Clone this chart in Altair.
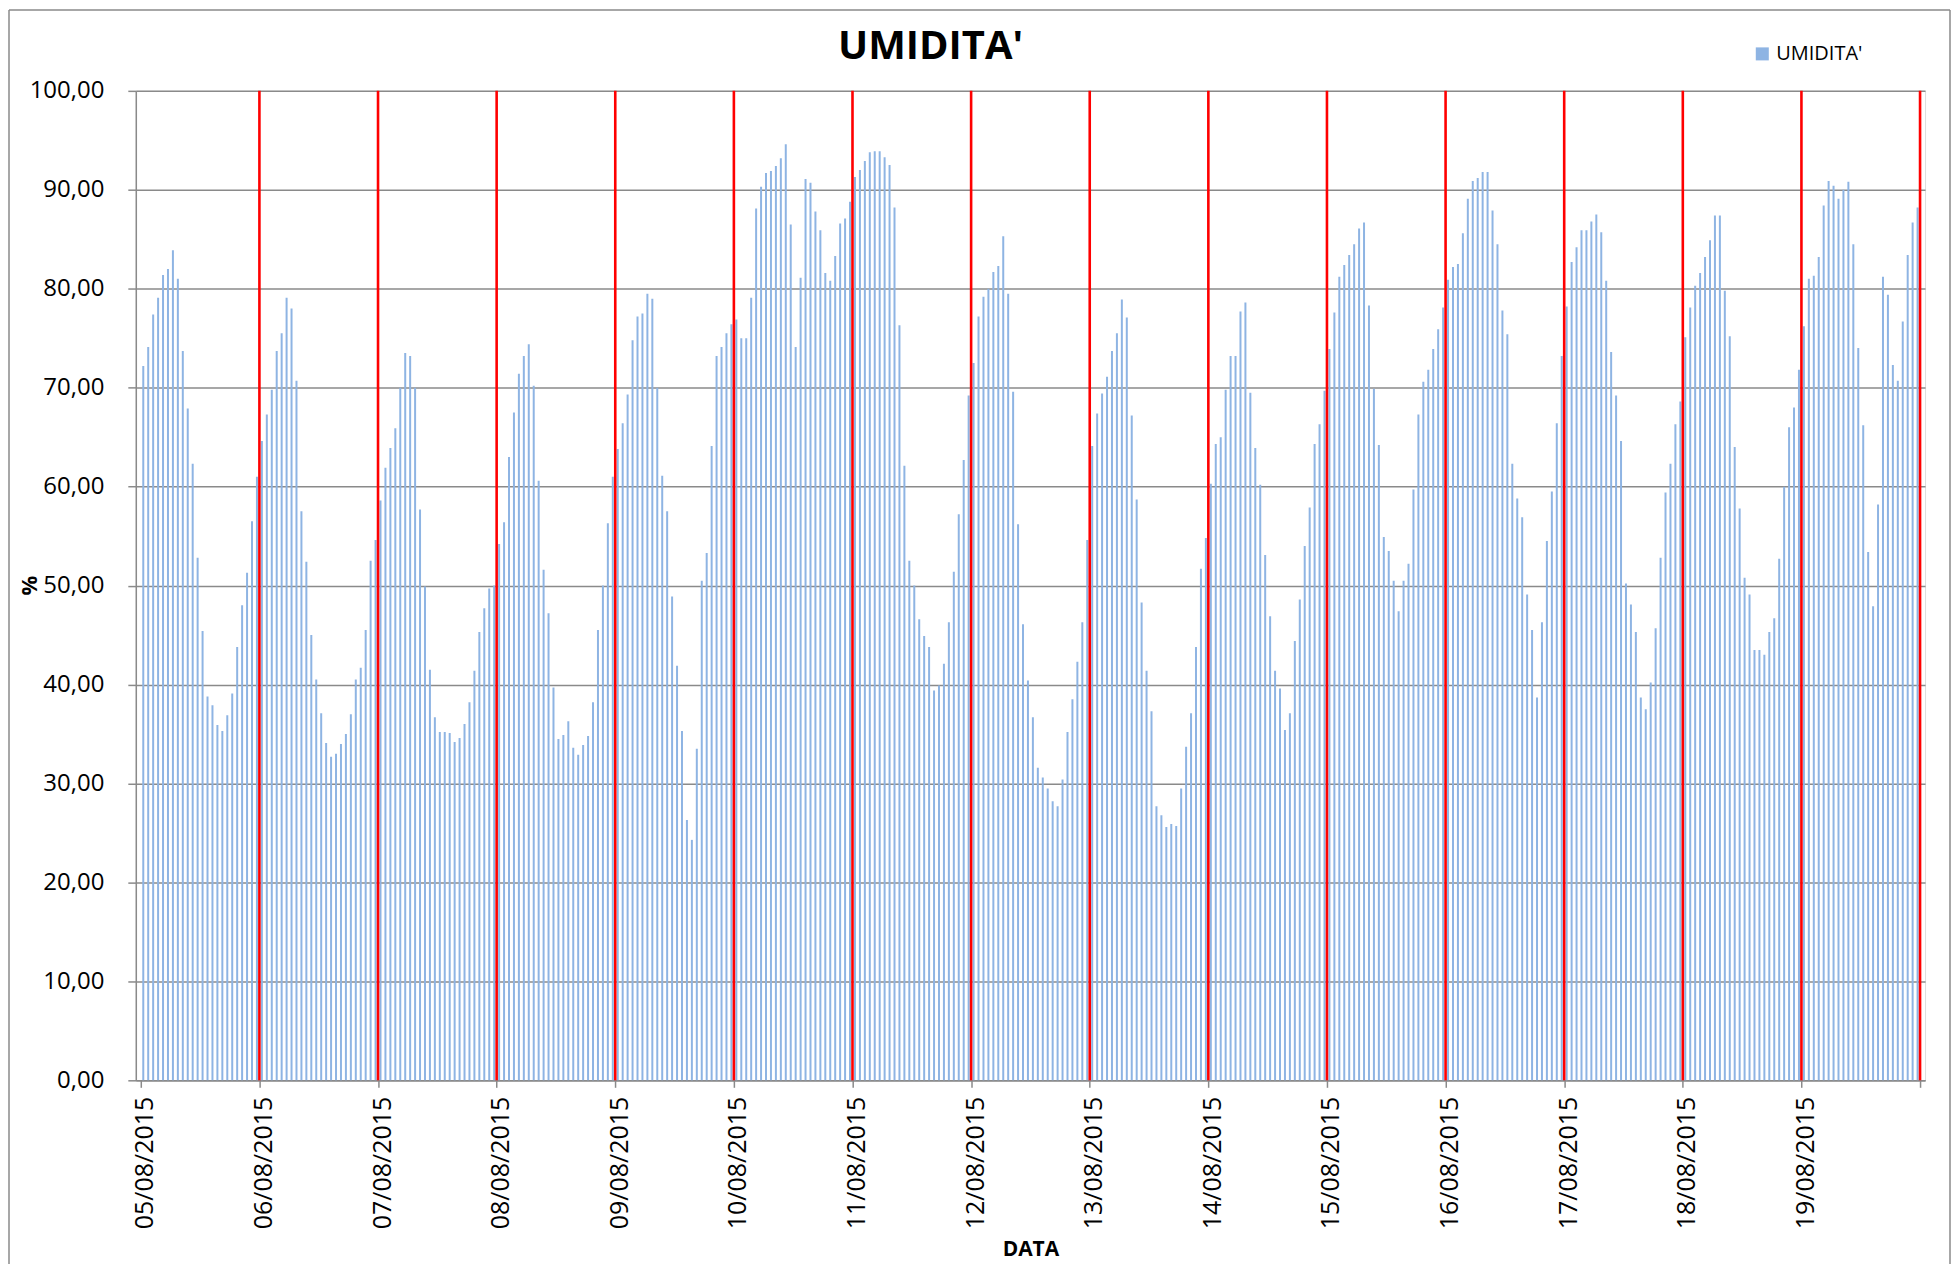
import altair as alt
import pandas as pd

# --- dati: umidità oraria (%) per giorno ---
titolo = "UMIDITA'"
giorni = ["05/08/2015", "06/08/2015", "07/08/2015", "08/08/2015", "09/08/2015",
          "10/08/2015", "11/08/2015", "12/08/2015", "13/08/2015", "14/08/2015",
          "15/08/2015", "16/08/2015", "17/08/2015", "18/08/2015", "19/08/2015"]

u_0508 = [72.2, 74.1, 77.4, 79.1, 81.4, 82.0, 83.9, 81.0, 73.7, 67.9, 62.3, 52.8,
          45.4, 38.8, 37.9, 35.9, 35.3, 36.9, 39.1, 43.8, 48.0, 51.3, 56.5, 61.0]
u_0608 = [64.6, 67.3, 69.8, 73.7, 75.5, 79.1, 78.0, 70.7, 57.5, 52.4, 45.0, 40.5,
          37.1, 34.1, 32.7, 33.0, 34.0, 35.0, 37.0, 40.5, 41.7, 45.5, 52.5, 54.6]
u_0708 = [58.6, 61.9, 63.9, 65.9, 70.0, 73.5, 73.2, 70.0, 57.7, 49.9, 41.5, 36.7,
          35.2, 35.2, 35.1, 34.2, 34.6, 36.0, 38.2, 41.4, 45.3, 47.7, 49.7, 50.0]
u_0808 = [54.2, 56.4, 63.0, 67.5, 71.4, 73.2, 74.4, 70.2, 60.6, 51.6, 47.2, 39.7,
          34.5, 34.9, 36.3, 33.6, 32.9, 33.9, 34.8, 38.2, 45.5, 50.0, 56.3, 61.0]
u_0908 = [63.8, 66.4, 69.3, 74.8, 77.2, 77.5, 79.5, 79.0, 70.0, 61.1, 57.5, 48.9,
          41.9, 35.3, 26.3, 24.3, 33.5, 50.5, 53.3, 64.1, 73.2, 74.1, 75.5, 76.4]
u_1008 = [76.9, 75.0, 75.0, 79.1, 88.1, 90.3, 91.7, 91.9, 92.4, 93.2, 94.6, 86.5,
          74.1, 81.1, 91.1, 90.7, 87.8, 85.9, 81.6, 80.8, 83.3, 86.6, 87.1, 88.8]
u_1108 = [91.3, 92.0, 92.9, 93.8, 93.9, 93.9, 93.3, 92.5, 88.2, 76.3, 62.1, 52.5,
          50.0, 46.6, 44.9, 43.8, 39.4, 39.9, 42.1, 46.3, 51.4, 57.2, 62.7, 69.2]
u_1208 = [72.5, 77.2, 79.2, 80.0, 81.7, 82.3, 85.3, 79.5, 69.6, 56.2, 46.1, 40.4,
          36.7, 31.6, 30.6, 29.5, 28.2, 27.7, 30.4, 35.2, 38.5, 42.3, 46.3, 54.6]
u_1308 = [64.1, 67.4, 69.4, 71.1, 73.7, 75.5, 78.9, 77.1, 67.2, 58.7, 48.3, 41.4,
          37.3, 27.7, 26.8, 25.6, 25.9, 25.7, 29.5, 33.7, 37.1, 43.8, 51.7, 54.8]
u_1408 = [60.3, 64.3, 65.0, 69.8, 73.2, 73.2, 77.7, 78.6, 69.5, 63.9, 60.2, 53.1,
          46.9, 41.4, 39.6, 35.4, 37.1, 44.4, 48.6, 54.0, 57.9, 64.3, 66.3, 69.7]
u_1508 = [73.9, 77.6, 81.2, 82.4, 83.4, 84.5, 86.1, 86.7, 78.3, 69.9, 64.2, 54.9,
          53.5, 50.5, 47.4, 50.5, 52.2, 59.7, 67.3, 70.6, 71.8, 73.9, 75.9, 78.1]
u_1608 = [80.9, 82.2, 82.5, 85.6, 89.1, 90.9, 91.2, 91.8, 91.8, 87.9, 84.5, 77.8,
          75.4, 62.3, 58.8, 56.9, 49.1, 45.5, 38.7, 46.3, 54.5, 59.5, 66.4, 73.2]
u_1708 = [78.2, 82.7, 84.2, 85.9, 85.9, 86.8, 87.5, 85.7, 80.8, 73.6, 69.2, 64.6,
          50.2, 48.1, 45.3, 38.7, 37.5, 40.2, 45.7, 52.8, 59.4, 62.3, 66.3, 68.6]
u_1808 = [75.1, 78.1, 80.3, 81.6, 83.2, 84.9, 87.4, 87.4, 79.8, 75.2, 64.0, 57.8,
          50.8, 49.1, 43.5, 43.5, 43.0, 45.3, 46.7, 52.7, 60.0, 66.0, 68.0, 71.8]
u_1908 = [76.2, 81.0, 81.3, 83.2, 88.4, 90.9, 90.4, 89.1, 90.0, 90.8, 84.5, 74.0,
          66.2, 53.4, 47.9, 58.2, 81.2, 79.4, 72.3, 70.7, 76.7, 83.4, 86.7, 88.2]

serie_giornaliere = [u_0508, u_0608, u_0708, u_0808, u_0908, u_1008, u_1108, u_1208,
                     u_1308, u_1408, u_1508, u_1608, u_1708, u_1808, u_1908]

ORE = 24
valori = [v for giorno in serie_giornaliere for v in giorno]
df = pd.DataFrame({
    "ora": [i + 0.5 for i in range(len(valori))],
    "umidita": valori,
    "serie": [titolo] * len(valori),
})
confini = pd.DataFrame({"ora": [ORE * (k + 1) for k in range(len(giorni))]})
tot = ORE * len(giorni)

FONT = "Open Sans"
GRAY = "#8a8a8a"
W, H = 1792, 991

x_scale = alt.Scale(domain=[0, tot], nice=False, zero=False)
y_scale = alt.Scale(domain=[0, 100], nice=False)

label_list = "[" + ",".join("'" + g + "'" for g in giorni) + "]"

x_axis = alt.Axis(
    title="DATA", titleFont=FONT, titleFontSize=21, titleFontWeight="bold",
    titleColor="#000", titleY=169, titleBaseline="middle",
    values=[ORE * k for k in range(len(giorni) + 1)],
    labelExpr="datum.value < " + str(tot) + " ? " + label_list
              + "[round(datum.value/24)] : ''",
    labelAngle=270, labelFont=FONT, labelFontSize=25, labelColor="#000",
    labelPadding=9, labelOffset=4, labelOverlap=False, labelFlush=False,
    tickSize=7, tickColor=GRAY, tickWidth=1.5,
    domainColor=GRAY, domainWidth=1.5, grid=False)

bars = alt.Chart(df).mark_bar(size=2).encode(
    x=alt.X("ora:Q", scale=x_scale, axis=x_axis),
    y=alt.Y("umidita:Q", scale=y_scale,
            axis=alt.Axis(
                title="%", titleFont=FONT, titleFontSize=22, titleFontWeight="bold",
                titleColor="#000", titleX=-106, titleY=495, titleAngle=270,
                titleAlign="center", titleBaseline="middle",
                values=list(range(0, 101, 10)),
                labelExpr="replace(format(datum.value, '.2f'), '.', ',')",
                labelFont=FONT, labelFontSize=24, labelColor="#000", labelPadding=24,
                tickSize=8, tickColor=GRAY, tickWidth=1.5,
                domainColor=GRAY, domainWidth=1.5,
                grid=True, gridColor=GRAY, gridWidth=1.5)),
    color=alt.Color("serie:N", scale=alt.Scale(range=["#8EB4E3"]),
                    legend=alt.Legend(title=None, orient="none", legendX=1619, legendY=-47,
                                      symbolType="square", symbolSize=170,
                                      symbolStrokeWidth=0, labelFont=FONT,
                                      labelFontSize=20, labelColor="#000")),
)

rules = alt.Chart(confini).mark_rule(color="#ff0000", strokeWidth=2.6).encode(
    x=alt.X("ora:Q", scale=x_scale, axis=x_axis)
)

cornice_df = pd.DataFrame({"a": [0]})
frame_left = alt.Chart(cornice_df).mark_rule(color=GRAY, strokeWidth=1.5).encode(
    x=alt.value(-127), y=alt.value(-81), y2=alt.value(1175))
frame_top = alt.Chart(cornice_df).mark_rule(color=GRAY, strokeWidth=1.5).encode(
    x=alt.value(-127), x2=alt.value(1817), y=alt.value(-81))
frame_right = alt.Chart(cornice_df).mark_rule(color=GRAY, strokeWidth=1.5).encode(
    x=alt.value(1817), y=alt.value(-81), y2=alt.value(1175))

title_mark = alt.Chart(cornice_df).mark_text(
    font=FONT, fontSize=40, fontWeight="bold", color="#000",
    align="center", baseline="alphabetic").encode(
    x=alt.value(796), y=alt.value(-32), text=alt.value(titolo))

chart = alt.layer(bars, rules, frame_left, frame_top, frame_right, title_mark).properties(
    width=W, height=H, padding=0,
).configure_view(stroke=None).configure(background="white")

chart.save("out.html", embed_options={"renderer": "svg", "actions": False})
